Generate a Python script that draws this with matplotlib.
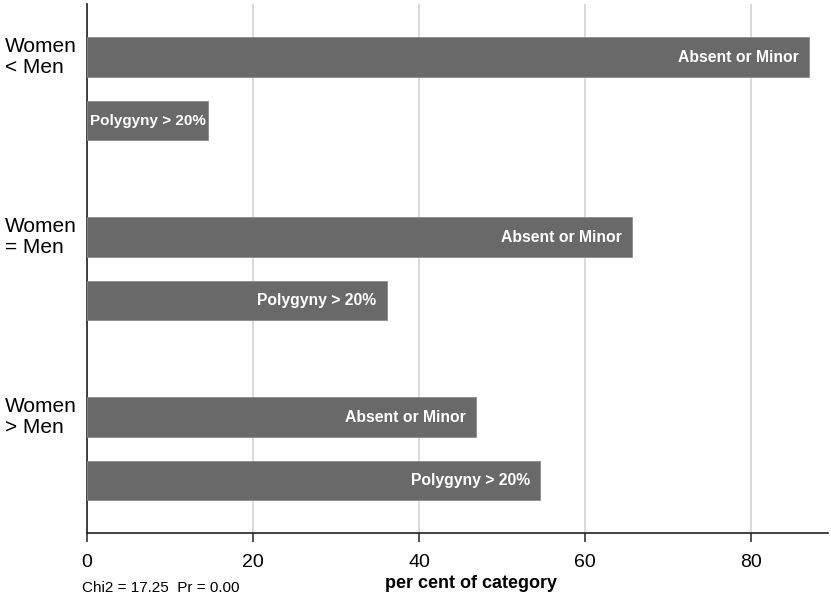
import matplotlib
matplotlib.use("Agg")
import matplotlib.pyplot as plt
import numpy as np

groups = ["Women\n< Men", "Women\n= Men", "Women\n> Men"]
series = ["Absent or Minor", "Polygyny > 20%"]
absent = [87.0, 65.7, 46.9]
polygyny = [14.6, 36.1, 54.6]
xticks = [0, 20, 40, 60, 80]
xlabel = "per cent of category"
note = "Chi2 = 17.25  Pr = 0.00"

plt.rcParams['font.family'] = ['Liberation Sans', 'DejaVu Sans']

W, H = 831, 604
fig = plt.figure(figsize=(W / 100, H / 100), dpi=100)
left, right, top, bottom = 87, 828, 4, 533
ax = fig.add_axes([left / W, 1 - bottom / H, (right - left) / W, (bottom - top) / H])

bar_color = "#696969"
edge_color = "#8c8c8c"
offset = 63.5 / 180
height = 39.5 / 180

gpos = np.arange(len(groups))
for vals, off, lab in [(absent, 0.0, series[0]), (polygyny, offset, series[1])]:
    ypos = gpos + off
    ax.barh(ypos, vals, height=height, color=bar_color, edgecolor=edge_color,
            linewidth=0.6, zorder=3)
    for y, v in zip(ypos, vals):
        if v < 20:
            ax.text(v / 2, y, lab, ha="center", va="center", color="white",
                    fontsize=11, fontweight="bold", zorder=4)
        else:
            ax.annotate(lab, (v, y), xytext=(-7.5, 0), textcoords="offset points",
                        ha="right", va="center", color="white",
                        fontsize=11.3, fontweight="bold", zorder=4)

ax.set_xlim(0, (right - left) / 8.3)
ax.set_ylim((bottom - 57) / 180, (top - 57) / 180)

ax.set_xticks(xticks)
ax.set_xticklabels([str(t) for t in xticks], fontsize=14)
ax.tick_params(axis="x", length=6.5, width=1.1, pad=8.5, color="#222222")
ax.set_yticks([])
ax.grid(axis="x", color="#d9d9d9", linewidth=1.4, zorder=0)
ax.set_axisbelow(True)

for s in ["top", "right"]:
    ax.spines[s].set_visible(False)
for s in ["left", "bottom"]:
    ax.spines[s].set_linewidth(1.2)
    ax.spines[s].set_color("#222222")

for i, g in enumerate(groups):
    fig.text(5 / W, 1 - (57 + i * 180) / H, g, ha="left", va="center",
             fontsize=15, linespacing=1.1)

fig.text(471 / W, 1 - 584 / H, xlabel, ha="center", va="center",
         fontsize=13, fontweight="bold")
fig.text(82 / W, 1 - 588 / H, note, ha="left", va="center", fontsize=11)

fig.savefig("out.png", dpi=100, facecolor="white")
